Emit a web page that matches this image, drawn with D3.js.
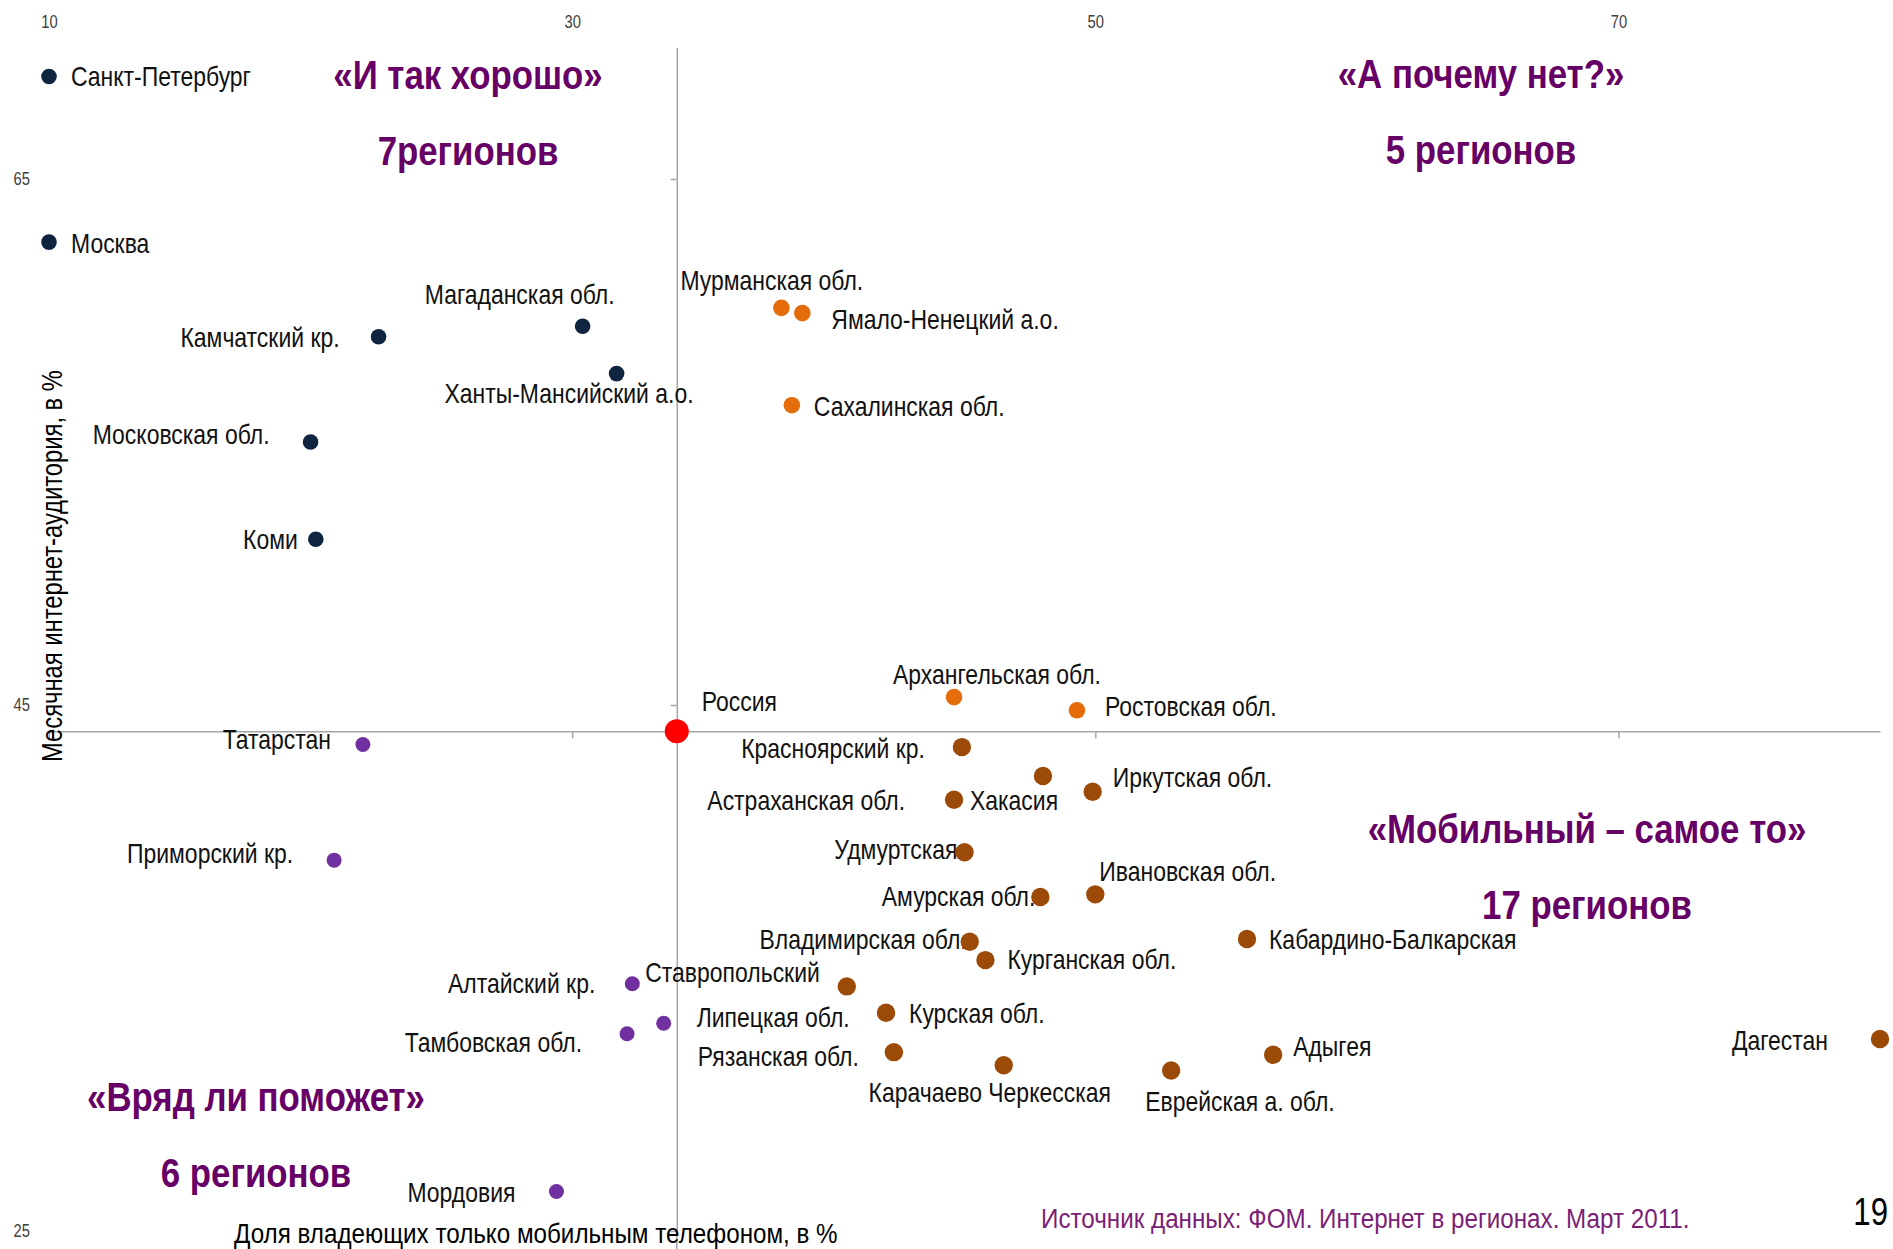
<!DOCTYPE html>
<html>
<head>
<meta charset="utf-8">
<script src="https://cdn.jsdelivr.net/npm/d3@7"></script>
<style>
  body { margin: 0; background: #fff; }
  svg { display: block; }
  text { font-family: "Liberation Sans", Arial, sans-serif; }
  .lbl { font-size: 28px; fill: #111; }
  .title { font-size: 40px; font-weight: bold; fill: #660066; text-anchor: middle; }
  .tick text { font-size: 18px; fill: #404040; }
</style>
</head>
<body>
<svg width="1893" height="1249"></svg>
<script>
const svg = d3.select("svg");
const width = +svg.attr("width");
const height = +svg.attr("height");

// axis ticks
const xTicks = [10, 30, 50, 70];
const yTicks = [25, 45, 65];

// Россия — the point where the axes cross
const russia = { name: "Россия", x: 34, y: 44 };

// regions: share owning only a mobile phone (x) vs monthly internet audience (y)
const regions = [
  "Санкт-Петербург", "Москва", "Магаданская обл.", "Камчатский кр.", "Ханты-Мансийский а.о.", "Московская обл.", "Коми",
  "Мурманская обл.", "Ямало-Ненецкий а.о.", "Сахалинская обл.", "Архангельская обл.", "Ростовская обл.",
  "Красноярский кр.", "Хакасия", "Иркутская обл.", "Астраханская обл.", "Удмуртская", "Амурская обл.", "Ивановская обл.",
  "Кабардино-Балкарская", "Владимирская обл.", "Курганская обл.", "Ставропольский", "Курская обл.", "Рязанская обл.",
  "Карачаево Черкесская", "Еврейская а. обл.", "Адыгея", "Дагестан",
  "Татарстан", "Приморский кр.", "Алтайский кр.", "Липецкая обл.", "Тамбовская обл.", "Мордовия"
];
const mobileOnly = [
  10.0, 10.0, 30.4, 22.6, 31.7, 20.0, 20.2,
  38.0, 38.8, 38.4, 44.6, 49.3,
  44.9, 48.0, 49.9, 44.6, 45.0, 47.9, 50.0,
  55.8, 45.2, 45.8, 40.5, 42.0, 42.3,
  46.5, 52.9, 56.8, 80.0,
  22.0, 20.9, 32.3, 33.5, 32.1, 29.4
];
const monthlyAudience = [
  68.9, 62.6, 59.4, 59.0, 57.6, 55.0, 51.3,
  60.1, 59.9, 56.4, 45.3, 44.8,
  43.4, 42.3, 41.7, 41.4, 39.4, 37.7, 37.8,
  36.1, 36.0, 35.3, 34.3, 33.3, 31.8,
  31.3, 31.1, 31.7, 32.3,
  43.5, 39.1, 34.4, 32.9, 32.5, 26.5
];
const segment = [
  "good", "good", "good", "good", "good", "good", "good",
  "why", "why", "why", "why", "why",
  "mobile", "mobile", "mobile", "mobile", "mobile", "mobile", "mobile",
  "mobile", "mobile", "mobile", "mobile", "mobile", "mobile",
  "mobile", "mobile", "mobile", "mobile",
  "unlikely", "unlikely", "unlikely", "unlikely", "unlikely", "unlikely"
];

// quadrant captions
const segmentKeys = ["good", "why", "mobile", "unlikely"];
const segmentTitles = ["«И так хорошо»", "«А почему нет?»", "«Мобильный – самое то»", "«Вряд ли поможет»"];
const segmentCounts = ["7регионов", "5 регионов", "17 регионов", "6 регионов"];

const xTitle = "Доля владеющих только мобильным телефоном, в %";
const yTitle = "Месячная интернет-аудитория, в %";
const source = "Источник данных: ФОМ. Интернет в регионах. Март 2011.";
const pageNo = "19";

const points = regions.map((name, i) => ({ name, x: mobileOnly[i], y: monthlyAudience[i], seg: segment[i] }));

const color = d3.scaleOrdinal().domain(segmentKeys).range(["#0f243e", "#e46c0a", "#9c4a08", "#7030a0"]);
const radius = d3.scaleOrdinal().domain(segmentKeys).range([7.8, 8.3, 9.2, 7.5]);

const x = d3.scaleLinear().domain([10, 80]).range([49, 1880]);
const y = d3.scaleLinear().domain([25, 70]).range([1231, 47.5]);

// the original uses a narrow face, so squeeze text horizontally
const squeeze = 0.82;
const place = (px, py, k = squeeze) => `translate(${px},${py}) scale(${k},1)`;

svg.append("rect").attr("width", width).attr("height", height).attr("fill", "#fff");

// crossing axes through Russia
const axisColor = "#a6a6a6";
const hAxis = svg.append("g")
  .attr("transform", `translate(0,${y(russia.y)})`)
  .call(d3.axisBottom(x).tickValues(xTicks).tickSize(7).tickSizeOuter(0).tickFormat(""));
const vAxis = svg.append("g")
  .attr("transform", `translate(${x(russia.x)},0)`)
  .call(d3.axisLeft(y).tickValues(yTicks).tickSize(6).tickSizeOuter(0).tickFormat(""));
svg.append("line")
  .attr("x1", x(russia.x)).attr("x2", x(russia.x))
  .attr("y1", y(25)).attr("y2", height)
  .attr("stroke", axisColor).attr("stroke-width", 1.5);
[hAxis, vAxis].forEach(g => {
  g.selectAll("path, line").attr("stroke", axisColor).attr("stroke-width", 1.5);
});

// tick labels sit on the outer edges (top and left)
svg.append("g")
  .attr("transform", "translate(0,28)")
  .call(d3.axisTop(x).tickValues(xTicks).tickSize(0).tickPadding(0))
  .call(g => g.select(".domain").remove())
  .call(g => g.selectAll("text").attr("transform", `scale(${squeeze},1)`));
svg.append("g")
  .attr("transform", "translate(30,0)")
  .call(d3.axisLeft(y).tickValues(yTicks).tickSize(0).tickPadding(0))
  .call(g => g.select(".domain").remove())
  .call(g => g.selectAll("text").attr("transform", `scale(${squeeze},1)`));

// label placement: anchor, dx, dy from the point
const labelPlace = {
  "Санкт-Петербург": ["start", 22, 10], "Москва": ["start", 22, 10.5],
  "Магаданская обл.": ["end", 32, -22], "Камчатский кр.": ["end", -39, 10],
  "Ханты-Мансийский а.о.": ["end", 77, 29], "Московская обл.": ["end", -41, 2],
  "Коми": ["end", -18, 10], "Мурманская обл.": ["start", -101, -18],
  "Ямало-Ненецкий а.о.": ["start", 29, 16], "Сахалинская обл.": ["start", 22, 11],
  "Архангельская обл.": ["start", -61, -13], "Ростовская обл.": ["start", 28, 6],
  "Россия": ["start", 25, -20], "Красноярский кр.": ["end", -37, 11],
  "Хакасия": ["start", -73, 34], "Иркутская обл.": ["start", 20, -5],
  "Астраханская обл.": ["end", -49, 10], "Удмуртская": ["end", -7, 7],
  "Амурская обл.": ["end", -5, 9], "Ивановская обл.": ["start", 4, -13],
  "Кабардино-Балкарская": ["start", 22, 10], "Владимирская обл.": ["end", -3, 7],
  "Курганская обл.": ["start", 22, 9], "Ставропольский": ["end", -27, -4],
  "Алтайский кр.": ["end", -37, 9], "Липецкая обл.": ["start", 33, 4],
  "Курская обл.": ["start", 23, 10], "Тамбовская обл.": ["end", -45, 18],
  "Рязанская обл.": ["end", -35, 14], "Карачаево Черкесская": ["middle", -14, 37],
  "Еврейская а. обл.": ["start", -26, 40], "Адыгея": ["start", 20, 1],
  "Дагестан": ["end", -52, 11], "Татарстан": ["end", -32, 5],
  "Приморский кр.": ["end", -41, 3], "Мордовия": ["end", -41, 10]
};

svg.append("g").selectAll("text")
  .data(points.concat([russia]))
  .enter().append("text")
  .attr("class", "lbl")
  .attr("transform", d => place(x(d.x) + labelPlace[d.name][1], y(d.y) + labelPlace[d.name][2]))
  .attr("text-anchor", d => labelPlace[d.name][0])
  .text(d => d.name);

svg.append("g").selectAll("circle")
  .data(points)
  .enter().append("circle")
  .attr("cx", d => x(d.x))
  .attr("cy", d => y(d.y))
  .attr("r", d => radius(d.seg))
  .attr("fill", d => color(d.seg));

svg.append("circle")
  .attr("cx", x(russia.x))
  .attr("cy", y(russia.y))
  .attr("r", 12)
  .attr("fill", "#ff0000");

// quadrant captions
const captionPos = { good: [468, 89], why: [1481, 88], mobile: [1587, 843], unlikely: [256, 1111] };
segmentKeys.forEach((k, i) => {
  const [cx, cy] = captionPos[k];
  svg.append("text").attr("class", "title").attr("transform", place(cx, cy, 0.87)).text(segmentTitles[i]);
  svg.append("text").attr("class", "title").attr("transform", place(cx, cy + 76, 0.87)).text(segmentCounts[i]);
});

// axis titles
svg.append("text")
  .attr("transform", `translate(62,566) rotate(-90) scale(${squeeze},1)`)
  .attr("text-anchor", "middle")
  .attr("font-size", 29)
  .attr("fill", "#000")
  .text(yTitle);
svg.append("text")
  .attr("transform", place(234, 1243, 0.865))
  .attr("font-size", 28)
  .attr("fill", "#000")
  .text(xTitle);

svg.append("text")
  .attr("transform", place(1041, 1228, 0.865))
  .attr("font-size", 28)
  .attr("fill", "#7a1e78")
  .text(source);
svg.append("text")
  .attr("transform", place(1888, 1225))
  .attr("text-anchor", "end")
  .attr("font-size", 38)
  .attr("fill", "#000")
  .text(pageNo);
</script>
</body>
</html>
